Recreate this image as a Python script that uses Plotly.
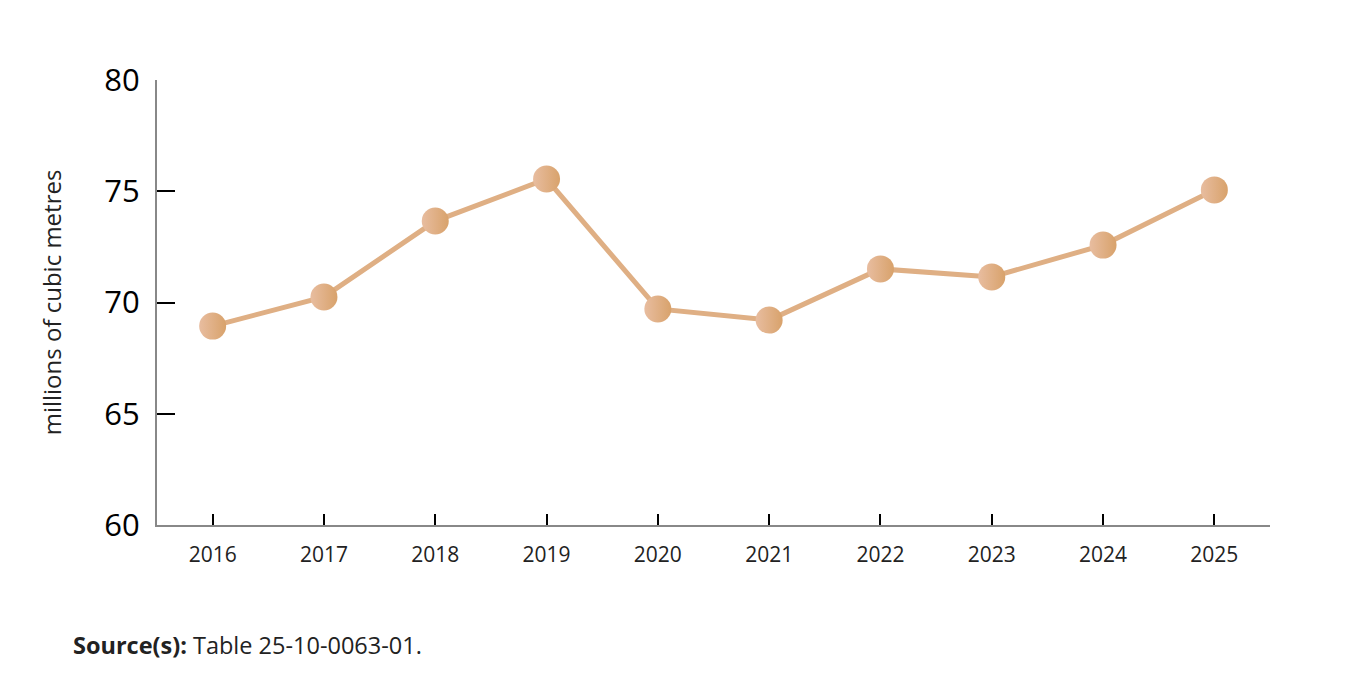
import plotly.graph_objects as go

years = [2016, 2017, 2018, 2019, 2020, 2021, 2022, 2023, 2024, 2025]
values = [68.94, 70.25, 73.66, 75.55, 69.71, 69.21, 71.51, 71.15, 72.58, 75.06]
y_ticks = [60, 65, 70, 75, 80]

FONT = "Open Sans, Lato, sans-serif"

fig = go.Figure()
fig.add_trace(go.Scatter(
    x=years, y=values, mode="lines",
    line=dict(color="#DFAF84", width=5),
    hoverinfo="skip", showlegend=False,
))
fig.add_trace(go.Scatter(
    x=years, y=values, mode="markers",
    marker=dict(size=27, color="#E8BDA0",
                gradient=dict(type="horizontal", color="#D8A26B"),
                line=dict(width=0)),
    showlegend=False,
))

fig.update_layout(
    width=1366, height=677,
    margin=dict(l=157, r=96, t=80, b=152),
    paper_bgcolor="white", plot_bgcolor="white",
    font=dict(family=FONT, color="#000"),
    xaxis=dict(
        range=[2015.5, 2025.5], tickmode="array", tickvals=years,
        ticktext=[str(y) for y in years],
        ticks="inside", ticklen=11, tickcolor="#000", tickwidth=1.5,
        showline=True, linecolor="#888", linewidth=2,
        showgrid=False, zeroline=False,
        tickfont=dict(size=21, family=FONT, color="#222"),
        ticklabelstandoff=10,
    ),
    yaxis=dict(
        range=[60, 80], tickmode="array", tickvals=y_ticks,
        ticks="inside", ticklen=18, tickcolor="#000", tickwidth=1.5,
        showline=True, linecolor="#888", linewidth=2,
        showgrid=False, zeroline=False,
        tickfont=dict(size=31, family=FONT, color="#000"),
        ticklabelstandoff=9,
        title=dict(text="millions of cubic metres",
                   font=dict(size=24, family=FONT, color="#222"),
                   standoff=36),
    ),
)
pw, ph = 1366 - 157 - 96, 677 - 80 - 152
fig.add_annotation(
    x=(71 - 157) / pw, y=(677 - 152 - 645) / ph,
    xref="paper", yref="paper", xanchor="left", yanchor="middle",
    text="<b>Source(s):</b> Table 25-10-0063-01.", showarrow=False,
    font=dict(size=23.5, family=FONT, color="#222"),
)

fig.write_html("out.html")
